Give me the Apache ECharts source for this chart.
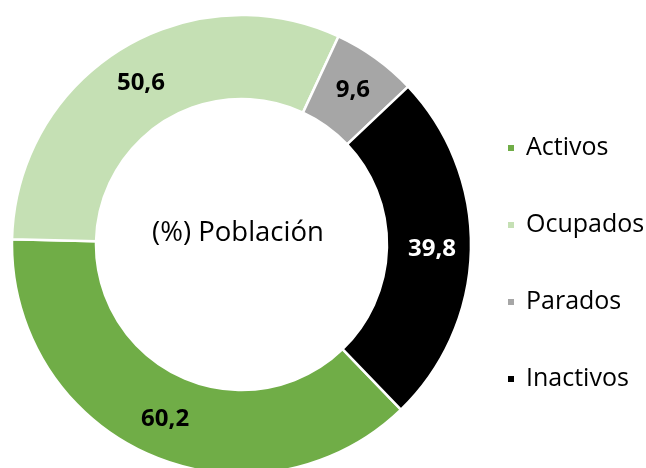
<!DOCTYPE html>
<html>
<head>
<meta charset="utf-8">
<script src="https://cdn.jsdelivr.net/npm/echarts@6/dist/echarts.min.js"></script>
<style>
  html, body { margin: 0; padding: 0; background: #fff; }
  #chart { width: 646px; height: 468px; }
</style>
</head>
<body>
<div id="chart"></div>
<script>
// datos
const categorias = ["Activos", "Ocupados", "Parados", "Inactivos"];
const valores = [60.2, 50.6, 9.6, 39.8];
const colores = ["#70AD47", "#C5E0B4", "#A6A6A6", "#000000"];
const coloresEtiqueta = ["#000000", "#000000", "#000000", "#ffffff"];
const tituloCentro = "(%) Población";

const fuente = "'Open Sans', 'Noto Sans', sans-serif";

let chart = echarts.init(document.getElementById("chart"));

const option = {
  animation: false,
  color: colores,
  legend: {
    orient: "vertical",
    left: 501,
    top: 128,
    icon: "rect",
    itemWidth: 8,
    itemHeight: 8,
    itemGap: 47,
    data: categorias,
    textStyle: {
      fontFamily: fuente,
      fontSize: 25,
      color: "#000",
      lineHeight: 30,
      padding: [0, 0, 0, 6]
    }
  },
  graphic: [
    {
      type: "text",
      x: 238,
      y: 233,
      style: {
        text: tituloCentro,
        fontFamily: fuente,
        fontSize: 27.5,
        fill: "#000",
        textAlign: "center",
        textVerticalAlign: "middle"
      }
    }
  ],
  series: [
    {
      type: "pie",
      center: [241.5, 244.5],
      radius: [145.5, 229.5],
      startAngle: -46,
      clockwise: true,
      avoidLabelOverlap: false,
      itemStyle: {
        borderColor: "#fff",
        borderWidth: 2.5
      },
      label: {
        show: true,
        position: "inside",
        fontFamily: fuente,
        fontWeight: "bold",
        fontSize: 24,
        formatter: p => String(p.value).replace(".", ",")
      },
      labelLine: { show: false },
      emphasis: { disabled: true },
      data: categorias.map((c, i) => ({
        name: c,
        value: valores[i],
        label: { color: coloresEtiqueta[i] }
      }))
    }
  ]
};

option && chart.setOption(option);
</script>
</body>
</html>
